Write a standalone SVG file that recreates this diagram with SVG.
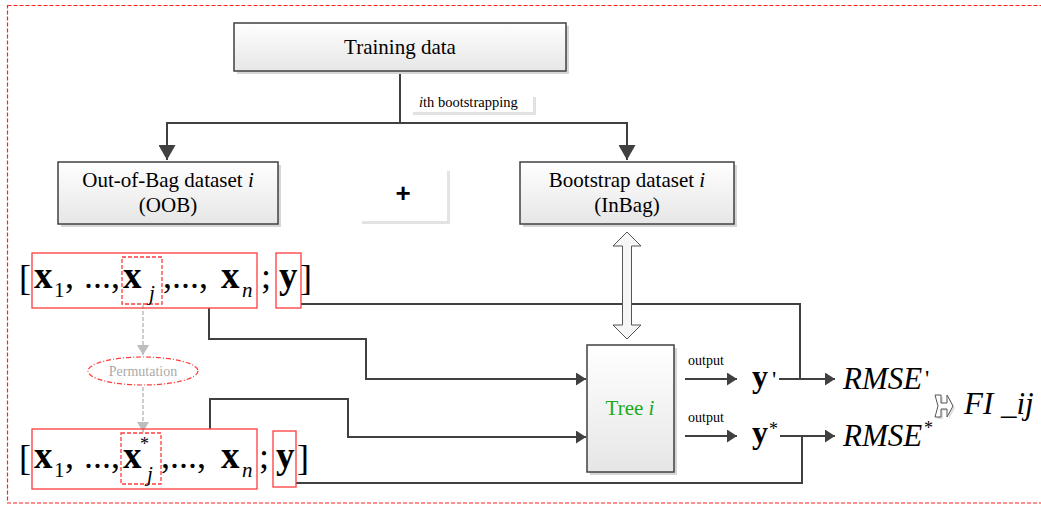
<svg xmlns="http://www.w3.org/2000/svg" width="1041" height="509" viewBox="0 0 1041 509">
<style>
.serif{font-family:"Liberation Serif","Times New Roman",serif;fill:#000}
.box{fill:url(#g);stroke:#404040;stroke-width:1.5}
.shadow{fill:#d6d6d6}
.lbl{font-size:21px;text-anchor:middle}
.line{fill:none;stroke:#404040;stroke-width:2}
.big{font-size:37px;font-weight:bold}
.sub{font-size:21px}
.rbox{fill:none;stroke:#ff3b3b;stroke-width:1.3}
.rdash{fill:none;stroke:#ff3b3b;stroke-width:1.3;stroke-dasharray:4 2}
.gdash{fill:none;stroke:#bdbdbd;stroke-width:1.5;stroke-dasharray:4 2}
</style>
<defs>
<linearGradient id="g" x1="0" y1="0" x2="0" y2="1">
<stop offset="0" stop-color="#ffffff"/>
<stop offset="1" stop-color="#e6e6e6"/>
</linearGradient>
<marker id="ab" viewBox="0 0 15 17" refX="15" refY="8.5" markerWidth="15" markerHeight="17" markerUnits="userSpaceOnUse" orient="auto">
<path d="M0,0 L15,8.5 L0,17 z" fill="#404040"/>
</marker>
<marker id="as" viewBox="0 0 10 13" refX="10" refY="6.5" markerWidth="10" markerHeight="13" markerUnits="userSpaceOnUse" orient="auto">
<path d="M0,0 L10,6.5 L0,13 z" fill="#404040"/>
</marker>
<marker id="ag" viewBox="0 0 10 12" refX="10" refY="6" markerWidth="10" markerHeight="12" markerUnits="userSpaceOnUse" orient="auto">
<path d="M0,0 L10,6 L0,12 z" fill="#bdbdbd"/>
</marker>
</defs>

<rect x="7.5" y="5.5" width="1040" height="497.5" fill="none" stroke="#ff2020" stroke-width="1.2" stroke-dasharray="4 2"/>

<g id="connectors">
<path class="line" d="M400,71 V123"/>
<path class="line" d="M400,123 H167 V160" marker-end="url(#ab)"/>
<path class="line" d="M400,123 H627 V160" marker-end="url(#ab)"/>
<path class="line" d="M301,304 H800 V379"/>
<path class="line" d="M209,308 V339 H366 V379 H586" marker-end="url(#as)"/>
<path class="line" d="M210,429 V399 H348 V437 H586" marker-end="url(#as)"/>
<path class="line" d="M296,483 H802 V436"/>
<path class="line" d="M685,379 H737" marker-end="url(#as)"/>
<path class="line" d="M685,436 H737" marker-end="url(#as)"/>
<path class="line" d="M779,379 H835" marker-end="url(#as)"/>
<path class="line" d="M780,436 H835" marker-end="url(#as)"/>
<polygon points="627,232 641,246 631.5,246 631.5,325 641,325 627,339 613,325 622.5,325 622.5,246 613,246" fill="#f6f6f6" stroke="#555" stroke-width="1"/>
<path class="gdash" d="M143,305 V355" marker-end="url(#ag)"/>
<path class="gdash" d="M143,387 V432" marker-end="url(#ag)"/>
</g>

<g id="training">
<rect class="shadow" x="237" y="26" width="332" height="48"/>
<rect class="box" x="234" y="23" width="332" height="48"/>
<text class="serif lbl" x="400" y="54">Training data</text>
</g>

<g id="bootstrap-label">
<rect x="413" y="97" width="123" height="18" fill="#e2e2e2"/>
<rect x="410" y="94" width="123" height="18" fill="#fff"/>
<text class="serif" x="419" y="107" font-size="14.5"><tspan font-style="italic">i</tspan>th bootstrapping</text>
</g>

<g id="oob">
<rect class="shadow" x="61" y="165" width="220" height="62"/>
<rect class="box" x="58" y="162" width="220" height="62"/>
<text class="serif lbl" x="168" y="187">Out-of-Bag dataset <tspan font-style="italic">i</tspan></text>
<text class="serif lbl" x="168" y="212">(OOB)</text>
</g>

<g id="plus">
<rect x="362" y="171" width="88" height="53" fill="#e3e3e3"/>
<rect x="359" y="168" width="88" height="53" fill="#fff"/>
<text x="403" y="202" font-family="Liberation Sans, Arial, sans-serif" font-size="26" font-weight="bold" text-anchor="middle">+</text>
</g>

<g id="inbag">
<rect class="shadow" x="523" y="165" width="214" height="62"/>
<rect class="box" x="520" y="162" width="214" height="62"/>
<text class="serif lbl" x="627" y="187">Bootstrap dataset <tspan font-style="italic">i</tspan></text>
<text class="serif lbl" x="627" y="212">(InBag)</text>
</g>

<g id="row1">
<rect class="rbox" x="32" y="253" width="225" height="55"/>
<rect class="rdash" x="122" y="257" width="40" height="47"/>
<rect class="rbox" x="276" y="253" width="25" height="55"/>
<g class="serif">
<text x="19" y="290" font-size="36">[</text>
<text class="big" x="34" y="288">x</text>
<text class="sub" x="54" y="297">1</text>
<text x="65" y="288" font-size="36">,</text>
<text x="84" y="288" font-size="36">...,</text>
<text class="big" x="123" y="288">x</text>
<text class="sub" x="149" y="300" font-style="italic">j</text>
<text x="163" y="288" font-size="36">,...,</text>
<text class="big" x="221" y="288">x</text>
<text class="sub" x="242" y="297" font-style="italic">n</text>
<text x="261" y="288" font-size="36">;</text>
<text class="big" x="279" y="288">y</text>
<text x="300" y="290" font-size="36">]</text>
</g>
</g>

<g id="permutation">
<ellipse cx="143" cy="371" rx="55" ry="14" fill="none" stroke="#ff3b3b" stroke-width="1.2" stroke-dasharray="5 2 1 2"/>
<text class="serif" x="143" y="376" font-size="14" text-anchor="middle" style="fill:#aaaaaa">Permutation</text>
</g>

<g id="row2">
<rect class="rbox" x="32" y="429" width="225" height="60"/>
<rect class="rdash" x="121" y="433" width="40" height="51"/>
<rect class="rbox" x="273" y="431" width="23" height="56"/>
<g class="serif">
<text x="19" y="470" font-size="36">[</text>
<text class="big" x="34" y="468">x</text>
<text class="sub" x="54" y="477">1</text>
<text x="65" y="468" font-size="36">,</text>
<text x="84" y="468" font-size="36">...,</text>
<text class="big" x="123" y="468">x</text>
<text x="140" y="450" font-size="18">*</text>
<text class="sub" x="147" y="481" font-style="italic">j</text>
<text x="161" y="468" font-size="36">,...,</text>
<text class="big" x="221" y="468">x</text>
<text class="sub" x="242" y="477" font-style="italic">n</text>
<text x="259" y="468" font-size="36">;</text>
<text class="big" x="276" y="468">y</text>
<text x="297" y="470" font-size="36">]</text>
</g>
</g>

<g id="tree">
<rect class="shadow" x="590" y="348" width="87" height="127"/>
<rect class="box" x="587" y="345" width="87" height="127"/>
<text class="serif" x="630" y="415" font-size="21" text-anchor="middle" style="fill:#1aaa1a">Tree <tspan font-style="italic">i</tspan></text>
</g>

<g id="output-labels" class="serif">
<text x="706" y="365" font-size="14" text-anchor="middle">output</text>
<text x="706" y="422" font-size="14" text-anchor="middle">output</text>
</g>

<g id="yprime" class="serif">
<text x="752" y="387" font-size="32" font-weight="bold">y</text>
<text x="772" y="387" font-size="24">'</text>
</g>

<g id="ystar" class="serif">
<text x="752" y="443" font-size="32" font-weight="bold">y</text>
<text x="769" y="435" font-size="18">*</text>
</g>

<g id="rmse1" class="serif">
<text x="843" y="389" font-size="31" font-style="italic">RMSE</text>
<text x="925" y="386" font-size="24">'</text>
</g>

<g id="rmse2" class="serif">
<text x="843" y="446" font-size="31" font-style="italic">RMSE</text>
<text x="924" y="434" font-size="18">*</text>
</g>

<g id="implies">
<path d="M937,397 L943,397 L943,405 L949,405 L949,397 L955,408 L949,419 L949,411 L943,411 L943,419 L937,419 L940,408 Z" fill="#e0e0e0"/>
<path d="M935,395 L941,395 L941,403 L947,403 L947,395 L953,406 L947,417 L947,409 L941,409 L941,417 L935,417 L938,406 Z" fill="#fff" stroke="#555" stroke-width="1"/>
</g>

<g id="fi" class="serif">
<text x="964" y="414" font-size="31" font-style="italic">FI _ij</text>
</g>
</svg>
